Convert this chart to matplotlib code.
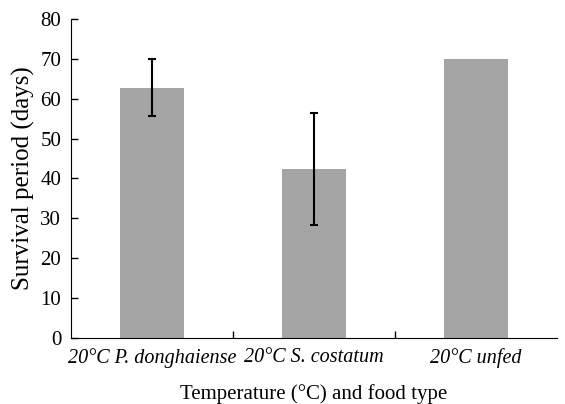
import numpy as np
import matplotlib
matplotlib.use('Agg')
import matplotlib.pyplot as plt

categories = ['20°C P. donghaiense', '20°C S. costatum', '20°C unfed']
survival = [62.8, 42.3, 70.0]
errors = [7.2, 14.0, 0.0]

plt.rcParams['font.family'] = ['Liberation Serif', 'DejaVu Serif']

fig = plt.figure(figsize=(5.65, 4.04), dpi=100)
ax = fig.add_axes([0.1257, 0.1634, 0.86, 0.7896])

x = np.arange(len(categories))
#bars with error bars only where there is spread
ax.bar(x, survival, width=0.4, color='#a5a5a5', zorder=2)
has_err = [i for i, e in enumerate(errors) if e > 0]
ax.errorbar(x[has_err], [survival[i] for i in has_err], yerr=[errors[i] for i in has_err],
            fmt='none', ecolor='black', elinewidth=1.5, capsize=3, capthick=1.5, zorder=3)

ax.set_xlim(-0.5, 2.5)
ax.set_ylim(0, 80)
ax.set_yticks(range(0, 81, 10))
ax.tick_params(axis='y', direction='in', length=5, labelsize=15, width=1, pad=7)
ax.set_xticks(x)
ax.set_xticklabels(categories, fontstyle='italic', fontsize=14.5)
ax.tick_params(axis='x', which='major', length=0, pad=7)
ax.set_xticks([0.5, 1.5], minor=True)
ax.tick_params(axis='x', which='minor', direction='in', length=5, width=1)

ax.spines['top'].set_visible(False)
ax.spines['right'].set_visible(False)
ax.set_ylabel('Survival period (days)', fontsize=18, labelpad=4)
ax.set_xlabel('Temperature (°C) and food type', fontsize=15, labelpad=12)

plt.savefig('out.png', dpi=100)
